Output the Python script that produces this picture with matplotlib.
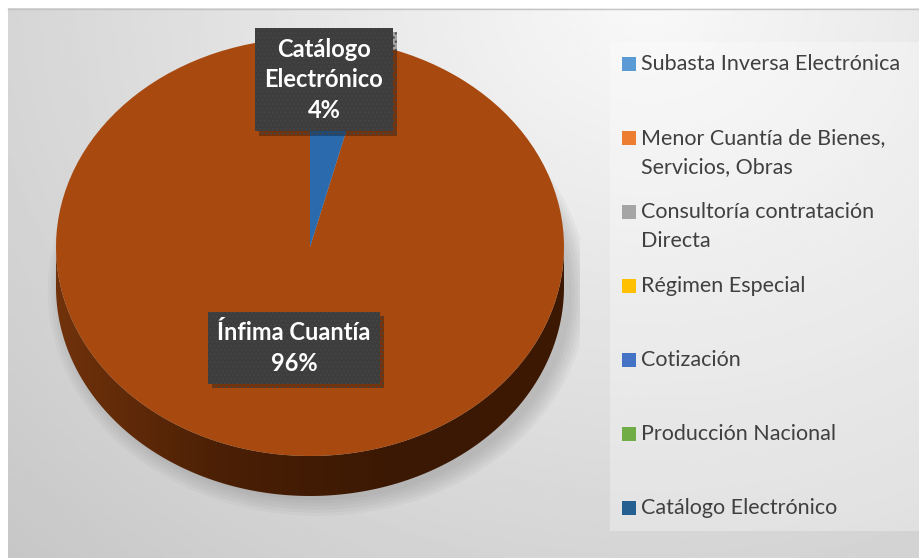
import numpy as np
import matplotlib.pyplot as plt
import matplotlib.patheffects as pe
from matplotlib.patches import Rectangle, Ellipse, PathPatch
from matplotlib.path import Path
from matplotlib.colors import LinearSegmentedColormap

# =========================
# DATA
# =========================

categories = [
    "Subasta Inversa Electrónica",
    "Menor Cuantía de Bienes,\nServicios, Obras",
    "Consultoría contratación\nDirecta",
    "Régimen Especial",
    "Cotización",
    "Producción Nacional",
    "Catálogo Electrónico",
]
shares = [0, 96, 0, 0, 0, 0, 4]
label_names = ["", "Ínfima Cuantía", "", "", "", "", "Catálogo\nElectrónico"]

legend_colors = ["#5b9bd5", "#ed7d31", "#a5a5a5", "#ffc000",
                 "#4472c4", "#70ad47", "#255e91"]
face_colors = ["#5b9bd5", "#a84a10", "#a5a5a5", "#ffc000",
               "#4472c4", "#70ad47", "#2a6aad"]

# =========================
# STYLE
# =========================

plt.rcParams["font.family"] = ["Lato", "DejaVu Sans"]

W, H = 920, 558
fig = plt.figure(figsize=(W / 100, H / 100), dpi=100)
fig.patch.set_facecolor("white")

# background panel (pixel coordinates)
bg = fig.add_axes([0, 0, 1, 1])
bg.set_xlim(0, W)
bg.set_ylim(H, 0)
bg.axis("off")

gx, gy = np.meshgrid(np.linspace(8, W, 300), np.linspace(8, H, 200))
dist = np.sqrt(((gx - 650) / 700) ** 2 + (gy / 600) ** 2)
light = np.clip(0.975 - 0.15 * dist, 0, 1)
bg.imshow(light, cmap="gray", vmin=0, vmax=1, extent=(8, W, H, 8),
          aspect="auto", interpolation="bilinear", zorder=0)
bg.plot([8, W], [8.5, 8.5], color="#c4c4c4", lw=1, zorder=1)
bg.add_patch(Rectangle((610, 42), 310, 489, facecolor="white",
                       alpha=0.3, edgecolor="none", zorder=1))

# =========================
# PIE (flattened, with side wall)
# =========================

cx, cy, rx, ry = 310, 247, 254, 209
depth = 40 / ry

ax = fig.add_axes([40 / W, 1 - 520 / H, 540 / W, 500 / H])
ax.patch.set_alpha(0)

# soft shadow
for k in range(6):
    ax.add_patch(Ellipse((0.03, -depth - 0.02), 2.0 + 0.025 * k,
                         2.0 + 0.03 * k, facecolor="#707070",
                         edgecolor="none", alpha=0.06, zorder=1))

theta = np.linspace(np.pi, 2 * np.pi, 200)
verts = np.concatenate([
    np.column_stack([np.cos(theta), np.sin(theta) - depth]),
    np.column_stack([np.cos(theta[::-1]), np.sin(theta[::-1])]),
])
side = PathPatch(Path(verts, closed=True), facecolor="none",
                 edgecolor="none", zorder=2)
ax.add_patch(side)
side_cmap = LinearSegmentedColormap.from_list(
    "side", ["#70320b", "#4a1f05", "#3b1803", "#3d1904"])
grad = np.linspace(0, 1, 256).reshape(1, -1)
img = ax.imshow(grad, cmap=side_cmap, extent=(-1, 1, -1 - depth, 0),
                aspect="auto", zorder=2)
img.set_clip_path(side)

wedges, _ = ax.pie(shares, colors=face_colors, startangle=90,
                   counterclock=True, radius=1,
                   wedgeprops=dict(linewidth=0, zorder=3))

ax.set_aspect("auto")
ax.set_xlim(-(cx - 40) / rx, (580 - cx) / rx)
ax.set_ylim(-(520 - cy) / ry, (cy - 20) / ry)
ax.axis("off")

# data labels
label_pos = {1: (-0.063, -0.483), 6: (0.055, 0.80)}
total = sum(shares)
for i, (x, y) in label_pos.items():
    pct = round(100 * shares[i] / total)
    t = ax.text(x, y, f"{label_names[i]}\n{pct}%", ha="center", va="center",
                fontsize=17, fontweight="bold", color="white",
                linespacing=1.4, zorder=5,
                bbox=dict(boxstyle="square,pad=0.4", facecolor="#3d3d3d",
                          edgecolor="#444444", hatch="....", linewidth=0))
    t.get_bbox_patch().set_path_effects([
        pe.SimplePatchShadow(offset=(3, -3), shadow_rgbFace="black",
                             alpha=0.3),
        pe.Normal(),
    ])

# =========================
# LEGEND
# =========================

for i, (lab, col) in enumerate(zip(categories, legend_colors)):
    yc = 64 + 74 * i
    bg.add_patch(Rectangle((622, yc - 7), 14, 14, facecolor=col,
                           edgecolor="none", zorder=3))
    for j, line in enumerate(lab.split("\n")):
        bg.text(641, yc + 29 * j, line, ha="left", va="center",
                fontsize=15.5, color="#404040", zorder=3)

fig.savefig("out.png", dpi=100)
